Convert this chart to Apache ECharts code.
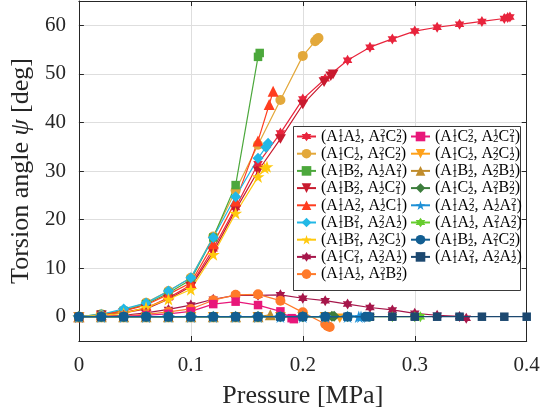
<!DOCTYPE html>
<html><head><meta charset="utf-8">
<script src="https://cdn.jsdelivr.net/npm/echarts@6/dist/echarts.min.js"></script>
<style>html,body{margin:0;padding:0;background:#fff}#c{width:554px;height:414px}</style>
</head><body><div id="c"></div>
<script>
// Pressure grid [MPa]
const P = [0, 0.02, 0.04, 0.06, 0.08, 0.10, 0.12, 0.14, 0.16, 0.18, 0.20, 0.22, 0.24, 0.26, 0.28, 0.30, 0.32, 0.34, 0.36, 0.38, 0.40];

// Torsion angle [deg] on grid P, plus irregular end points [p, angle]
const y1 = [0, 0.3, 0.9, 1.8, 3.9, 6.5, 14.0, 22.5, 31.5, 37.8, 44.8, 49.0, 52.8, 55.5, 57.2, 58.8, 59.6, 60.2, 60.8, 61.4];
const t1 = [[0.383, 61.6], [0.385, 61.7]];
const y2 = [0, 0.5, 1.3, 2.9, 5.3, 8.0, 16.5, 26.0, 35.4, 44.6, 53.7];
const t2 = [[0.211, 56.7], [0.213, 57.2], [0.214, 57.4]];
const y3 = [0, 0.5, 1.2, 2.6, 4.9, 7.6, 16.3, 27.1, 53.5];
const t3 = [[0.1615, 54.3]];
const y4 = [0, 0.3, 0.8, 1.6, 3.6, 6.2, 13.3, 22.0, 30.0, 36.6, 43.7];
const t4 = [[0.219, 48.3], [0.225, 49.5], [0.227, 49.9]];
const y5 = [0, 0.4, 1.2, 2.4, 4.6, 7.0, 15.0, 23.8, 36.2];
const t5 = [[0.170, 43.7], [0.1735, 46.4]];
const y6 = [0, 0.5, 1.6, 2.8, 5.3, 8.0, 16.3, 24.7, 32.6];
const t6 = [[0.167, 34.9], [0.169, 35.7]];
const y7 = [0, 0.3, 0.7, 1.9, 3.6, 5.6, 12.8, 21.3, 28.8];
const t7 = [[0.166, 30.6], [0.168, 30.9]];
const y8 = [0, 0.1, 0.3, 0.8, 1.5, 2.4, 3.6, 4.4, 4.4, 4.5, 3.8, 3.3, 2.6, 1.9, 1.4, 0.7, 0.3, 0.05];
const t8 = [[0.346, -0.3]];
const y9 = [0, 0.1, 0.2, 0.5, 1.0, 1.6, 3.4, 4.5, 4.6, 3.3, 0.9];
const t9 = [[0.220, -1.5], [0.222, -1.9], [0.224, -2.1]];
const y10 = [0, 0.0, 0.1, 0.3, 0.6, 1.1, 2.6, 3.1, 2.4, 1.1];
const t10 = [[0.190, -0.3], [0.192, -0.5]];
const y11 = [0, 0, 0, 0, 0, 0, 0, 0, 0, 0, 0, 0];
const t11 = [[0.233, -0.3]];
const y12 = [0, 0, 0, 0, 0, 0, 0, 0, 0];
const t12 = [[0.171, 0.4]];
const y13 = [0, 0, 0, 0, 0, 0, 0, 0, 0, 0, 0, 0];
const t13 = [[0.226, 0.1], [0.228, 0.1]];
const y14 = [0, 0, 0, 0, 0, 0, 0, 0, 0, 0, 0, 0, 0];
const t14 = [[0.250, 0], [0.252, 0]];
const y15 = [0, 0, 0, 0, 0, 0, 0, 0, 0, 0, 0, 0, 0, 0, 0, 0];
const t15 = [[0.305, 0]];
const y16 = [0, 0, 0, 0, 0, 0, 0, 0, 0, 0, 0, 0, 0];
const t16 = [[0.256, 0], [0.259, 0]];
const y17 = [0, 0, 0, 0, 0, 0, 0, 0, 0, 0, 0, 0, 0, 0, 0, 0, 0, 0, 0, 0, 0];
const t17 = [];

// Legend labels: each term = letter + superscript + subscript
const labels = [
  ['A11A12', 'A21C22'], ['A11C12', 'A21C22'], ['A11B22', 'A12A21'], ['A11B22', 'A12C21'],
  ['A11A22', 'A12C11'], ['A11B21', 'A22A12'], ['A11B21', 'A22C12'], ['A11C21', 'A22A12'],
  ['A11A12', 'A21B22'], ['A11C22', 'A12C21'], ['A11C12', 'A22C12'], ['A11B12', 'A22B12'],
  ['A11C12', 'A21B22'], ['A11A22', 'A12A21'], ['A11A12', 'A21A22'], ['A11B12', 'A21C22'],
  ['A11A21', 'A22A12']
];
const xTicks = [0, 0.1, 0.2, 0.3, 0.4];

const colors = ['#e8243c', '#e3a83a', '#4ca83c', '#c81a2e', '#ff3d1f', '#22b8e6', '#ffc90e', '#a6164a',
  '#ff7a2a', '#e8177a', '#ffa11a', '#c08c2c', '#3c7d3c', '#1e90d6', '#66cc2e', '#125e92', '#1c4870'];

const STAR5 = 'path://M50 0 L61.23 34.55 L97.55 34.55 L68.17 55.9 L79.39 90.45 L50 69.1 L20.61 90.45 L31.83 55.9 L2.45 34.55 L38.77 34.55 Z';
const STAR6 = 'path://M50 0 L64.43 25 L93.3 25 L78.87 50 L93.3 75 L64.43 75 L50 100 L35.57 75 L6.7 75 L21.13 50 L6.7 25 L35.57 25 Z';
const TRIDOWN = 'path://M0 0 L100 0 L50 87 Z';
const symbols = [STAR6, 'circle', 'rect', TRIDOWN, 'triangle', 'diamond', STAR5, STAR6,
  'circle', 'rect', TRIDOWN, 'triangle', 'diamond', STAR5, STAR6, 'circle', 'rect'];
const sizes = [11, 10, 8.5, 11, 11, 11, 13, 11, 10, 8.5, 11, 11, 11, 13, 11, 10, 8.5];
const zs = [2, 2, 2, 2, 2, 2, 2, 2, 2, 2, 2, 2, 2, 2, 2, 4, 3];

const ys = [y1, y2, y3, y4, y5, y6, y7, y8, y9, y10, y11, y12, y13, y14, y15, y16, y17];
const ts = [t1, t2, t3, t4, t5, t6, t7, t8, t9, t10, t11, t12, t13, t14, t15, t16, t17];

const SUP = {'1': '\u00b9', '2': '\u00b2'};
const SUB = {'1': '\u2081', '2': '\u2082'};
function termsOf(s) { const r = []; for (let i = 0; i < s.length; i += 3) r.push(s.substr(i, 3)); return r; }
function plainName(lab) {
  return '(' + lab.map(g => termsOf(g).map(t => t[0] + SUP[t[1]] + SUB[t[2]]).join('')).join(', ') + ')';
}
function richName(lab) {
  let out = '{m|(}';
  lab.forEach((g, gi) => {
    if (gi > 0) out += '{m|, }';
    termsOf(g).forEach(t => { out += '{m|' + t[0] + '}{p|' + t[1] + '}{b|' + t[2] + '}'; });
  });
  return out + '{m|)}';
}
const names = labels.map(plainName);
const richMap = {};
labels.forEach((l, i) => { richMap[names[i]] = richName(l); });

const FONT = "'Liberation Serif', 'Times New Roman', serif";
const series = ys.map((y, i) => ({
  name: names[i],
  type: 'line',
  data: y.map((v, k) => [P[k], v]).concat(ts[i]),
  symbol: symbols[i],
  symbolSize: sizes[i],
  symbolKeepAspect: true,
  showSymbol: true,
  lineStyle: { color: colors[i], width: 1.2 },
  itemStyle: { color: colors[i] },
  emphasis: { disabled: true },
  animation: false,
  z: zs[i]
}));

const legendText = {
  fontFamily: FONT, color: '#000',
  rich: {
    m: { fontFamily: FONT, fontSize: 16, lineHeight: 17, color: '#000' },
    p: { fontFamily: FONT, fontSize: 11, lineHeight: 11, verticalAlign: 'top', color: '#000' },
    b: { fontFamily: FONT, fontSize: 11, lineHeight: 11, verticalAlign: 'bottom', padding: [0, 0, 0, -5.5], color: '#000' }
  }
};
function mkLegend(left, data) {
  return {
    orient: 'vertical', left: left, top: 128, padding: 0, itemGap: 0.2,
    itemWidth: 19, itemHeight: 12, data: data, selectedMode: false, z: 10,
    formatter: n => richMap[n], textStyle: legendText
  };
}

const axisCol = '#262626';
const chart = echarts.init(document.getElementById('c'), null, { renderer: 'canvas' });
chart.setOption({
  animation: false,
  color: colors,
  grid: { left: 73.4, right: 27.3, top: 1, bottom: 70.7, containLabel: false },
  xAxis: [{
    type: 'value', min: 0, max: 0.4, interval: 0.1, position: 'bottom',
    axisLine: { show: true, onZero: false, lineStyle: { color: axisCol, width: 1 } },
    axisTick: { show: true, inside: true, length: 5, lineStyle: { color: axisCol } },
    axisLabel: { fontFamily: FONT, fontSize: 21, color: axisCol, margin: 14,
      formatter: v => xTicks.some(t => Math.abs(t - v) < 1e-9) ? String(+v.toFixed(1)) : '' },
    splitLine: { show: true, lineStyle: { color: '#dedede', width: 1 } },
    name: 'Pressure [MPa]', nameLocation: 'middle', nameGap: 42,
    nameTextStyle: { fontFamily: FONT, fontSize: 26, color: axisCol }
  }, {
    type: 'value', min: 0, max: 0.4, interval: 0.1, position: 'top',
    axisLine: { show: true, onZero: false, lineStyle: { color: axisCol, width: 1 } },
    axisTick: { show: true, inside: true, length: 5, lineStyle: { color: axisCol } },
    axisLabel: { show: false }, splitLine: { show: false }
  }],
  yAxis: [{
    type: 'value', min: -5, max: 65, splitNumber: 7, position: 'left',
    axisLine: { show: true, onZero: false, lineStyle: { color: axisCol, width: 1 } },
    axisTick: { show: true, inside: true, length: 5, lineStyle: { color: axisCol } },
    axisLabel: { fontFamily: FONT, fontSize: 21, color: axisCol, margin: 13,
      formatter: v => (Math.abs(v % 10) < 1e-9 ? String(v) : '') },
    splitLine: { show: true, lineStyle: { color: '#dedede', width: 1 } },
    name: 'Torsion angle {i|\u03c8} [deg]', nameLocation: 'middle', nameGap: 38,
    nameTextStyle: { fontFamily: FONT, fontSize: 26, color: axisCol,
      rich: { i: { fontFamily: FONT, fontSize: 26, fontStyle: 'italic', color: axisCol } } }
  }, {
    type: 'value', min: -5, max: 65, splitNumber: 7, position: 'right',
    axisLine: { show: true, onZero: false, lineStyle: { color: axisCol, width: 1 } },
    axisTick: { show: true, inside: true, length: 5, lineStyle: { color: axisCol } },
    axisLabel: { show: false }, splitLine: { show: false }
  }],
  legend: [mkLegend(296, names.slice(0, 9)), mkLegend(410, names.slice(9))],
  graphic: [{
    type: 'rect', z: 5, silent: true,
    shape: { x: 293.5, y: 126.5, width: 227, height: 164 },
    style: { fill: '#fff', stroke: '#3a3a3a', lineWidth: 1 }
  }],
  series: series
});
</script>
</body></html>
